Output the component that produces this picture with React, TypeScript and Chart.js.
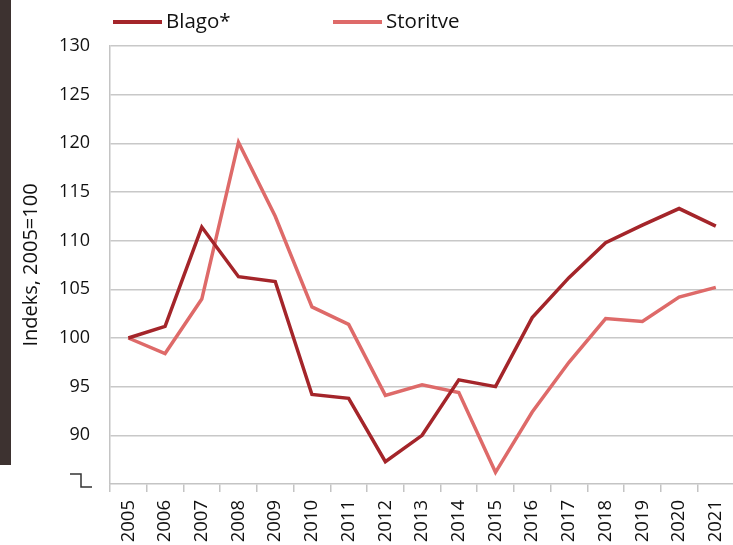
import { useEffect, useRef } from 'react';
import { Chart, registerables } from 'chart.js';

Chart.register(...registerables);

const years = ['2005', '2006', '2007', '2008', '2009', '2010', '2011', '2012', '2013', '2014', '2015', '2016', '2017', '2018', '2019', '2020', '2021'];
const blago = [100, 101.2, 111.4, 106.3, 105.8, 94.2, 93.8, 87.3, 90.0, 95.7, 95.0, 102.1, 106.2, 109.8, 111.6, 113.3, 111.5];
const storitve = [100, 98.4, 104.0, 120.1, 112.5, 103.2, 101.4, 94.1, 95.2, 94.4, 86.2, 92.4, 97.5, 102.0, 101.7, 104.2, 105.2];
const seriesNames = ['Blago*', 'Storitve'];
const yMin = 85;
const yMax = 130;
const yStep = 5;
const yTitle = 'Indeks, 2005=100';

const FONT = "'Open Sans', 'Noto Sans', sans-serif";

const legendPlugin = {
  id: 'customLegend',
  afterDraw(chart: any) {
    const ctx = chart.ctx;
    const starts = [113, 333];
    ctx.save();
    chart.data.datasets.forEach((ds: any, i: number) => {
      const x = starts[i];
      const y = 22;
      ctx.strokeStyle = ds.borderColor;
      ctx.lineWidth = 4;
      ctx.lineCap = 'butt';
      ctx.beginPath();
      ctx.moveTo(x, y);
      ctx.lineTo(x + 49, y);
      ctx.stroke();
      ctx.fillStyle = '#111111';
      ctx.font = `20.5px ${FONT}`;
      ctx.textBaseline = 'middle';
      ctx.textAlign = 'left';
      ctx.fillText(ds.label, x + 53, y);
    });
    ctx.restore();
  },
};

const breakPlugin = {
  id: 'axisBreak',
  afterDraw(chart: any) {
    const ctx = chart.ctx;
    const ys = chart.scales.y;
    const x0 = chart.chartArea.left;
    const py = ys.getPixelForValue(yMin);
    ctx.save();
    ctx.strokeStyle = '#333333';
    ctx.lineWidth = 1.5;
    ctx.beginPath();
    ctx.moveTo(x0 - 40, py - 10);
    ctx.lineTo(x0 - 29, py - 10);
    ctx.lineTo(x0 - 29, py + 3);
    ctx.lineTo(x0 - 18, py + 3);
    ctx.stroke();
    ctx.restore();
  },
};

export default function App() {
  const ref = useRef<HTMLCanvasElement | null>(null);

  useEffect(() => {
    document.body.style.margin = '0';
    if (!ref.current) return;
    const chart = new Chart(ref.current, {
      type: 'line',
      data: {
        labels: years,
        datasets: [
          {
            label: seriesNames[0],
            data: blago,
            borderColor: '#a4252a',
            backgroundColor: '#a4252a',
            borderWidth: 3.5,
            pointRadius: 0,
            tension: 0,
          },
          {
            label: seriesNames[1],
            data: storitve,
            borderColor: '#de6a69',
            backgroundColor: '#de6a69',
            borderWidth: 3.5,
            pointRadius: 0,
            tension: 0,
          },
        ],
      },
      options: {
        responsive: false,
        animation: false,
        layout: { padding: { top: 46, left: 0, right: 0, bottom: 0 } },
        plugins: {
          legend: { display: false },
          tooltip: { enabled: false },
        },
        scales: {
          x: {
            offset: true,
            grid: {
              display: true,
              drawOnChartArea: false,
              drawTicks: true,
              tickLength: 8,
              color: '#c4c4c4',
              lineWidth: 1.5,
              offset: true,
            },
            border: { display: true, color: '#c4c4c4', width: 1.5 },
            ticks: {
              minRotation: 90,
              maxRotation: 90,
              autoSkip: false,
              padding: 8,
              color: '#111111',
              font: { family: FONT, size: 18.5 },
            },
            afterFit(s: any) {
              s.height = 61;
            },
          },
          y: {
            min: yMin,
            max: yMax,
            ticks: {
              stepSize: yStep,
              padding: 20,
              color: '#111111',
              font: { family: FONT, size: 18 },
              callback: (v: any) => (v === yMin ? '' : String(v)),
            },
            grid: {
              color: (c: any) => (c.tick && c.tick.value === yMin ? 'rgba(0,0,0,0)' : '#c8c8c8'),
              lineWidth: 1.5,
              drawTicks: false,
            },
            border: { display: true, color: '#c4c4c4', width: 1.5 },
            title: {
              display: true,
              text: yTitle,
              color: '#111111',
              font: { family: FONT, size: 20 },
              padding: { top: 19, bottom: 19 },
            },
            afterFit(s: any) {
              s.width = 110;
            },
          },
        },
      },
      plugins: [legendPlugin, breakPlugin],
    });
    return () => chart.destroy();
  }, []);

  return (
    <div style={{ position: 'fixed', left: 0, top: 0, width: 733, height: 545, overflow: 'hidden', background: '#fff' }}>
      <div style={{ position: 'absolute', left: 0, top: 0, width: 11, height: 465, background: '#3d3230', zIndex: 2 }} />
      <canvas ref={ref} width={746} height={545} style={{ position: 'absolute', left: 0, top: 0 }} />
    </div>
  );
}
